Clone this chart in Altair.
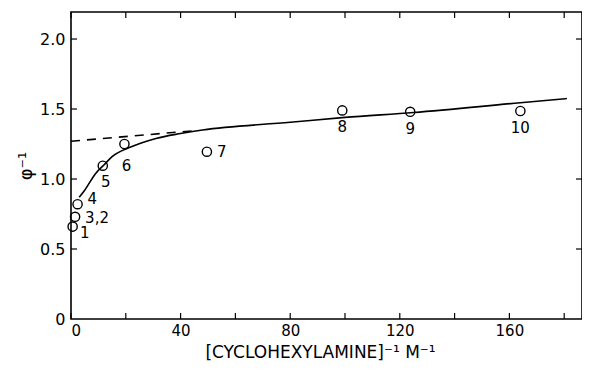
import altair as alt
import pandas as pd

# data points
pt_label = ["1", "3,2", "4", "5", "6", "7", "8", "9", "10"]
pt_x = [0.6, 1.5, 2.4, 11.6, 19.5, 49.6, 99.0, 123.8, 164.0]
pt_y = [0.66, 0.73, 0.82, 1.095, 1.25, 1.195, 1.49, 1.48, 1.486]

# solid fitted curve
curve_x = [3, 5, 9, 12, 15, 22, 31, 40, 48, 80, 100, 125, 164, 181]
curve_y = [0.87, 0.92, 1.04, 1.10, 1.16, 1.23, 1.29, 1.325, 1.35, 1.405, 1.44, 1.475, 1.545, 1.575]

# dashed extrapolation
dash_x = [0, 45]
dash_y = [1.27, 1.345]

x_ticks = [0, 20, 40, 60, 80, 100, 120, 140, 160, 180]
x_labels = [0, 40, 80, 120, 160]
y_ticks = [0.5, 1.0, 1.5, 2.0]
y_labels = [0, 0.5, 1.0, 1.5, 2.0]

FONT = "DejaVu Sans"
W, H = 511, 307
XD = [0, 186.5]
YD = [0, 2.193]

pts = pd.DataFrame({"x": pt_x, "y": pt_y, "label": pt_label})
curve = pd.DataFrame({"x": curve_x, "y": curve_y})
dash = pd.DataFrame({"x": dash_x, "y": dash_y})
xt = pd.DataFrame({"t": x_ticks})
yt = pd.DataFrame({"t": y_ticks})

xs = alt.Scale(domain=XD, nice=False, zero=False)
ys = alt.Scale(domain=YD, nice=False, zero=False)

x_axis = alt.Axis(
    values=x_labels, ticks=False, domain=False, grid=False,
    labelFont=FONT, labelFontSize=15, labelColor="black", labelPadding=4,
    labelExpr="datum.value == 0 ? '0' : format(datum.value, 'd')",
    title="[CYCLOHEXYLAMINE]⁻¹ M⁻¹", titleFont=FONT, titleFontSize=17,
    titleFontWeight="normal", titleColor="black", titleX=249, titleY=25,
    titleBaseline="top",
)
y_axis = alt.Axis(
    values=y_labels, ticks=False, domain=False, grid=False,
    labelFont=FONT, labelFontSize=16, labelColor="black", labelPadding=6,
    labelExpr="datum.value == 0 ? '0' : format(datum.value, '.1f')",
    title="φ⁻¹", titleFont=FONT, titleFontSize=18,
    titleFontWeight="normal", titleColor="black", titlePadding=4,
)

X = lambda f: alt.X(f, scale=xs, axis=x_axis)
Y = lambda f: alt.Y(f, scale=ys, axis=y_axis)

points = alt.Chart(pts).mark_point(
    shape="circle", filled=False, color="black", size=85, strokeWidth=1.4, opacity=1
).encode(x=X("x:Q"), y=Y("y:Q"))

solid = alt.Chart(curve).mark_line(
    color="black", strokeWidth=1.6, interpolate="monotone"
).encode(x=X("x:Q"), y=Y("y:Q"))

dashed = alt.Chart(dash).mark_line(
    color="black", strokeWidth=1.6, strokeDash=[9, 7]
).encode(x=X("x:Q"), y=Y("y:Q"))

def labels(sel, **kw):
    return alt.Chart(pts).transform_filter(
        alt.FieldOneOfPredicate(field="label", oneOf=sel)
    ).mark_text(font=FONT, fontSize=15, color="black", fill="black", **kw).encode(
        x=X("x:Q"), y=Y("y:Q"), text="label:N",
    )

lab_below = labels(["8", "9", "10"], dy=17)
lab_5 = labels(["5"], dx=3, dy=16)
lab_6 = labels(["6"], dx=2, dy=22)
lab_32 = labels(["3,2"], align="left", dx=10, dy=1)
lab_4 = labels(["4"], align="left", dx=10, dy=-5)
lab_7 = labels(["7"], align="left", dx=10, dy=0)
lab_1 = labels(["1"], dx=12, dy=6)

def trules(df, **enc):
    return alt.Chart(df).mark_rule(color="black", strokeWidth=1.2).encode(**enc)

tick_b = trules(xt, x=X("t:Q"), y=alt.value(H), y2=alt.value(H - 6))
tick_t = trules(xt, x=X("t:Q"), y=alt.value(0), y2=alt.value(6))
tick_l = trules(yt, y=Y("t:Q"), x=alt.value(0), x2=alt.value(6))
tick_r = trules(yt, y=Y("t:Q"), x=alt.value(W), x2=alt.value(W - 6))

chart = alt.layer(
    points, tick_b, tick_t, tick_l, tick_r, dashed, solid,
    lab_below, lab_5, lab_6, lab_32, lab_4, lab_7, lab_1,
).properties(
    width=W, height=H,
    autosize=alt.AutoSizeParams(type="none"),
    padding={"left": 63, "top": 4, "right": 0, "bottom": 44},
    background="white",
).configure_view(stroke="black", strokeWidth=1.6)

chart.save("out.html", embed_options={"renderer": "svg", "actions": False})
